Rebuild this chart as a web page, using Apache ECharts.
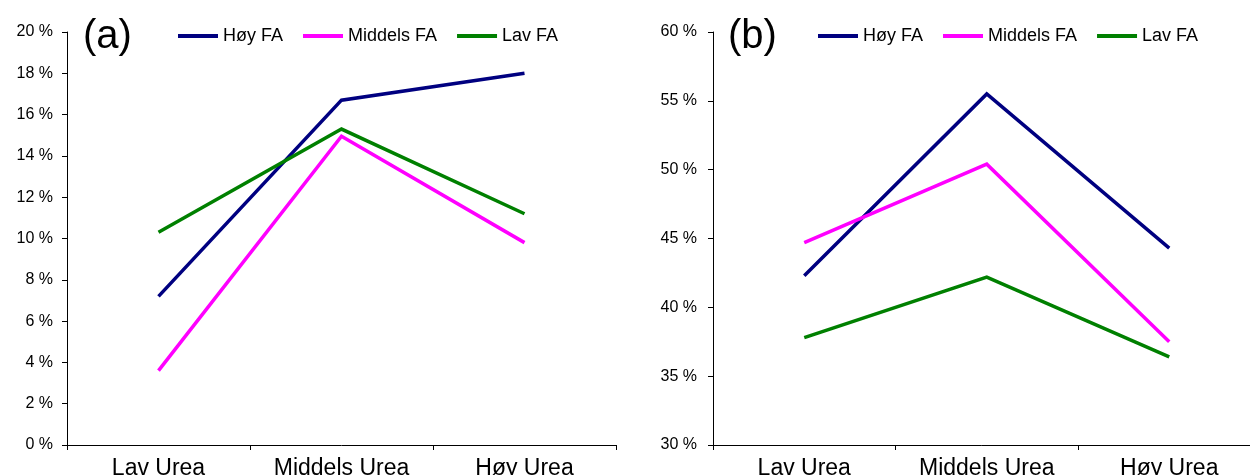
<!DOCTYPE html>
<html>
<head>
<meta charset="utf-8">
<style>
  html, body { margin: 0; padding: 0; background: #fff; }
  #chart { width: 1250px; height: 475px; }
</style>
<script src="https://cdn.jsdelivr.net/npm/echarts@6/dist/echarts.min.js"></script>
</head>
<body>
<div id="chart"></div>
<script>
// ---- data ----
var categories = ['Lav Urea', 'Middels Urea', 'Høy Urea'];
var seriesNames = ['Høy FA', 'Middels FA', 'Lav FA'];
var aHoyFA = [7.2, 16.7, 18.0];
var aMiddelsFA = [3.6, 14.95, 9.8];
var aLavFA = [10.3, 15.3, 11.2];
var bHoyFA = [42.3, 55.5, 44.3];
var bMiddelsFA = [44.7, 50.4, 37.5];
var bLavFA = [37.8, 42.2, 36.4];
var panelLabels = ['(a)', '(b)'];

var colors = ['#000080', '#FF00FF', '#008000'];
var FONT = '"Liberation Sans", Arial, sans-serif';

function xAxis(gi) {
  return {
    type: 'category', gridIndex: gi, data: categories, boundaryGap: true,
    axisLine: { show: true, lineStyle: { color: '#000', width: 1 } },
    axisTick: { show: true, length: 5, lineStyle: { color: '#000' } },
    axisLabel: { color: '#000', fontSize: 23, fontFamily: FONT, margin: 12 },
    splitLine: { show: false }
  };
}
function yAxis(gi, min, max, interval, margin) {
  return {
    type: 'value', gridIndex: gi, min: min, max: max, interval: interval,
    axisLine: { show: true, lineStyle: { color: '#000', width: 1 } },
    axisTick: { show: true, length: 5, lineStyle: { color: '#000' } },
    axisLabel: { color: '#000', fontSize: 16, fontFamily: FONT, margin: margin, formatter: '{value} %' },
    splitLine: { show: false }
  };
}
function line(name, data, idx, gi) {
  return {
    type: 'line', name: name, data: data, xAxisIndex: gi, yAxisIndex: gi,
    showSymbol: false, symbol: 'none', smooth: false,
    lineStyle: { color: colors[idx], width: 3.5, join: 'miter' },
    itemStyle: { color: colors[idx] },
    emphasis: { disabled: true }
  };
}
function legend(left) {
  return {
    left: left, top: 27, padding: 0, itemWidth: 40, itemHeight: 4, itemGap: 20, icon: 'rect',
    data: seriesNames,
    textStyle: { color: '#000', fontSize: 18, fontFamily: FONT }
  };
}
function title(text, left) {
  return { text: text, left: left, top: 17, padding: 0,
    textStyle: { fontSize: 40, fontWeight: 'normal', color: '#000', fontFamily: FONT } };
}

var chart = echarts.init(document.getElementById('chart'), null, { renderer: 'canvas' });
chart.setOption({
  animation: false,
  backgroundColor: '#fff',
  title: [title(panelLabels[0], 83), title(panelLabels[1], 728)],
  legend: [legend(178), legend(818)],
  grid: [
    { left: 67, top: 32, width: 549, height: 413, containLabel: false, outerBoundsMode: 'none' },
    { left: 713, top: 32, width: 547.5, height: 413, containLabel: false, outerBoundsMode: 'none' }
  ],
  xAxis: [xAxis(0), xAxis(1)],
  yAxis: [yAxis(0, 0, 20, 2, 14), yAxis(1, 30, 60, 5, 16)],
  series: [
    line(seriesNames[0], aHoyFA, 0, 0),
    line(seriesNames[1], aMiddelsFA, 1, 0),
    line(seriesNames[2], aLavFA, 2, 0),
    line(seriesNames[0], bHoyFA, 0, 1),
    line(seriesNames[1], bMiddelsFA, 1, 1),
    line(seriesNames[2], bLavFA, 2, 1)
  ]
});
</script>
</body>
</html>
